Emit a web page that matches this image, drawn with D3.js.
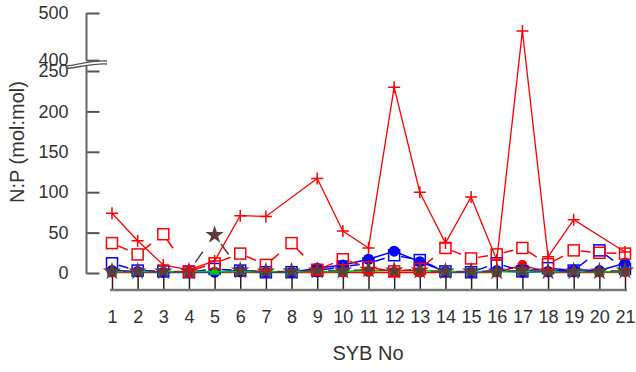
<!DOCTYPE html>
<html>
<head>
<meta charset="utf-8">
<script src="https://cdn.jsdelivr.net/npm/d3@7"></script>
<style>
  body { margin: 0; background: #fff; }
  text { font-family: "Liberation Sans", Arial, sans-serif; fill: #333; }
</style>
</head>
<body>
<div id="chart"></div>
<script>
// categories (SYB No)
var sybNo = d3.range(1, 22);

// series values (N:P mol:mol), null = no point
var plusRed   = [74, 40, 10, 4, 15, 71, 70, null, 117, 52, 31, 230, 100, 37, 94, 16, 462, 20, 66, null, 26];
var squareRed = [37, 23, 48, 2, 12, 24, 10, 37, 4, 17, 7, 2, 5, 31, 18, 23, 31, 11, 28, 25, 24];
var circleBlue = [3, 2, 1, 1, 1, 3, 1, 1, 6, 10, 17, 27, 14, 2, 1, 3, 1, 2, 4, 3, 12];
var squareBlue = [12, 3, 2, 1, 5, 3, 1, 1, 3, 8, 12, 22, 16, 2, 1, 12, 2, 6, 3, 28, 5];
var circleRed = [0.5, 0.5, 0.5, 0.5, 0.5, 0.5, 0.5, 0.5, 0.5, 0.5, 1, 0.5, 0.5, 0.5, 0.5, 0.5, 10, 0.5, 0.5, 0.5, 1];
var triGreen  = [1.5, 1.5, 1.5, 1.5, 2, 1.5, 1.5, 1.5, 1.5, 2, 3, 3, 3, 1.5, 1.5, 1.5, 1.5, 1.5, 1.5, 1.5, 1.5];
var starBrown = [2, 2, 2, 2, 47, 3, 2, 2, 3, 3, 4, 3, 3, 2, 2, 2, 3, 2, 2, 2, 3];

// tick labels
var lowTicks = [0, 50, 100, 150, 200, 250];
var highTicks = [400, 500];

var width = 636, height = 372;

var svg = d3.select("#chart")
  .append("svg")
    .attr("width", width)
    .attr("height", height);

// x scale
var x = d3.scalePoint()
  .domain(sybNo)
  .range([112, 625]);

// broken y scale: lower and upper part
var yLow = d3.scaleLinear().domain([0, 250]).range([273, 71]);
var yHigh = d3.scaleLinear().domain([395, 500]).range([62.5, 13]);
function yv(v) { return v > 300 ? yHigh(v) : yLow(v); }

var axisX = 86.5;

// X axis (separate, below the data)
var gx = svg.append("g")
  .attr("transform", "translate(0,290)")
  .call(d3.axisBottom(x).tickSizeInner(-13).tickSizeOuter(0).tickPadding(20));
gx.select(".domain").remove();
gx.selectAll(".tick line").attr("stroke", "#222").attr("stroke-width", 1.5);
gx.selectAll(".tick text").style("font-size", "18px").attr("fill", "#333");
gx.append("line")
  .attr("x1", 110).attr("x2", 627)
  .attr("y1", 0).attr("y2", 0)
  .attr("stroke", "#777").attr("stroke-width", 2.5);

// Y axis lower part
var gyl = svg.append("g")
  .attr("transform", "translate(" + axisX + ",0)")
  .call(d3.axisLeft(yLow).tickValues(lowTicks).tickSizeInner(-13).tickSizeOuter(0).tickPadding(18));
// Y axis upper part
var gyh = svg.append("g")
  .attr("transform", "translate(" + axisX + ",0)")
  .call(d3.axisLeft(yHigh).tickValues(highTicks).tickSizeInner(-13).tickSizeOuter(0).tickPadding(18));

[gyl, gyh].forEach(function(g) {
  g.select(".domain").remove();
  g.selectAll(".tick line").attr("stroke", "#555").attr("stroke-width", 2);
  g.selectAll(".tick text").style("font-size", "18px").attr("fill", "#333");
});

svg.append("line")
  .attr("x1", axisX).attr("x2", axisX)
  .attr("y1", yLow(0) + 1).attr("y2", 66)
  .attr("stroke", "#666").attr("stroke-width", 2);
svg.append("line")
  .attr("x1", axisX).attr("x2", axisX)
  .attr("y1", 61).attr("y2", yHigh(500))
  .attr("stroke", "#666").attr("stroke-width", 2);

// break marks
svg.append("path")
  .attr("d", "M67,66 C80,64 95,60 107,61")
  .attr("fill", "none").attr("stroke", "#555").attr("stroke-width", 1.3);
svg.append("path")
  .attr("d", "M67,68.5 C80,67 95,63 107,64")
  .attr("fill", "none").attr("stroke", "#555").attr("stroke-width", 1.3);

// axis titles
svg.append("text")
  .attr("x", 368).attr("y", 360)
  .attr("text-anchor", "middle")
  .style("font-size", "20px")
  .text("SYB No");

svg.append("text")
  .attr("transform", "translate(24,142) rotate(-90)")
  .attr("text-anchor", "middle")
  .style("font-size", "20px")
  .text("N:P (mol:mol)");

// helpers
function toPoints(vals) {
  var pts = [];
  vals.forEach(function(v, i) { if (v !== null) pts.push({ id: sybNo[i], v: v }); });
  return pts;
}

var line = d3.line()
  .x(function(d) { return x(d.id); })
  .y(function(d) { return yv(d.v); });

function solidLine(vals, color, w) {
  svg.append("path")
    .datum(toPoints(vals))
    .attr("fill", "none")
    .attr("stroke", color)
    .attr("stroke-width", w)
    .attr("d", line);
}

// dashed line: one short dash just after each point
function dashedLine(vals, color, dash) {
  var pts = toPoints(vals);
  var segs = d3.pairs(pts);
  svg.append("g").selectAll("line")
    .data(segs)
    .join("line")
      .attr("x1", function(d) { return x(d[0].id); })
      .attr("y1", function(d) { return yv(d[0].v); })
      .attr("x2", function(d) { return x(d[1].id); })
      .attr("y2", function(d) { return yv(d[1].v); })
      .attr("stroke", color)
      .attr("stroke-width", 1.5)
      .attr("stroke-dasharray", dash || "0,7,10,2000");
}

function markers(vals, draw) {
  var g = svg.append("g");
  g.selectAll("g")
    .data(toPoints(vals))
    .join("g")
      .attr("transform", function(d) { return "translate(" + x(d.id) + "," + yv(d.v) + ")"; })
      .each(function() { draw(d3.select(this)); });
}

// red circles
solidLine(circleRed, "#ff0000", 1.5);
markers(circleRed, function(s) { s.append("circle").attr("r", 5).attr("fill", "#ff0000"); });

// blue circles
solidLine(circleBlue, "#0000ff", 1.5);
markers(circleBlue, function(s) { s.append("circle").attr("r", 5.5).attr("fill", "#0000ff"); });

// blue squares
dashedLine(squareBlue, "#0000ff");
markers(squareBlue, function(s) {
  s.append("rect").attr("x", -5.5).attr("y", -5.5).attr("width", 11).attr("height", 11)
    .attr("fill", "none").attr("stroke", "#0000ff").attr("stroke-width", 1.5);
});

// green triangles
solidLine(triGreen, "#00c800", 1.5);
markers(triGreen, function(s) {
  s.append("path").attr("d", d3.symbol(d3.symbolTriangle, 55)).attr("fill", "#00c800");
});

// brown stars
dashedLine(starBrown, "#5e3c3c", "0,11,13,2000");
markers(starBrown, function(s) {
  s.append("path").attr("d", d3.symbol(d3.symbolStar, 105)).attr("fill", "#5e3c3c");
});

// red squares
dashedLine(squareRed, "#ff0000");
markers(squareRed, function(s) {
  s.append("rect").attr("x", -5.5).attr("y", -5.5).attr("width", 11).attr("height", 11)
    .attr("fill", "none").attr("stroke", "#ff0000").attr("stroke-width", 1.5);
});

// red plus line
solidLine(plusRed, "#ff0000", 1.3);
markers(plusRed, function(s) {
  s.append("path").attr("d", "M-6,0H6M0,-6V6")
    .attr("stroke", "#ff0000").attr("stroke-width", 1.5);
});
</script>
</body>
</html>
